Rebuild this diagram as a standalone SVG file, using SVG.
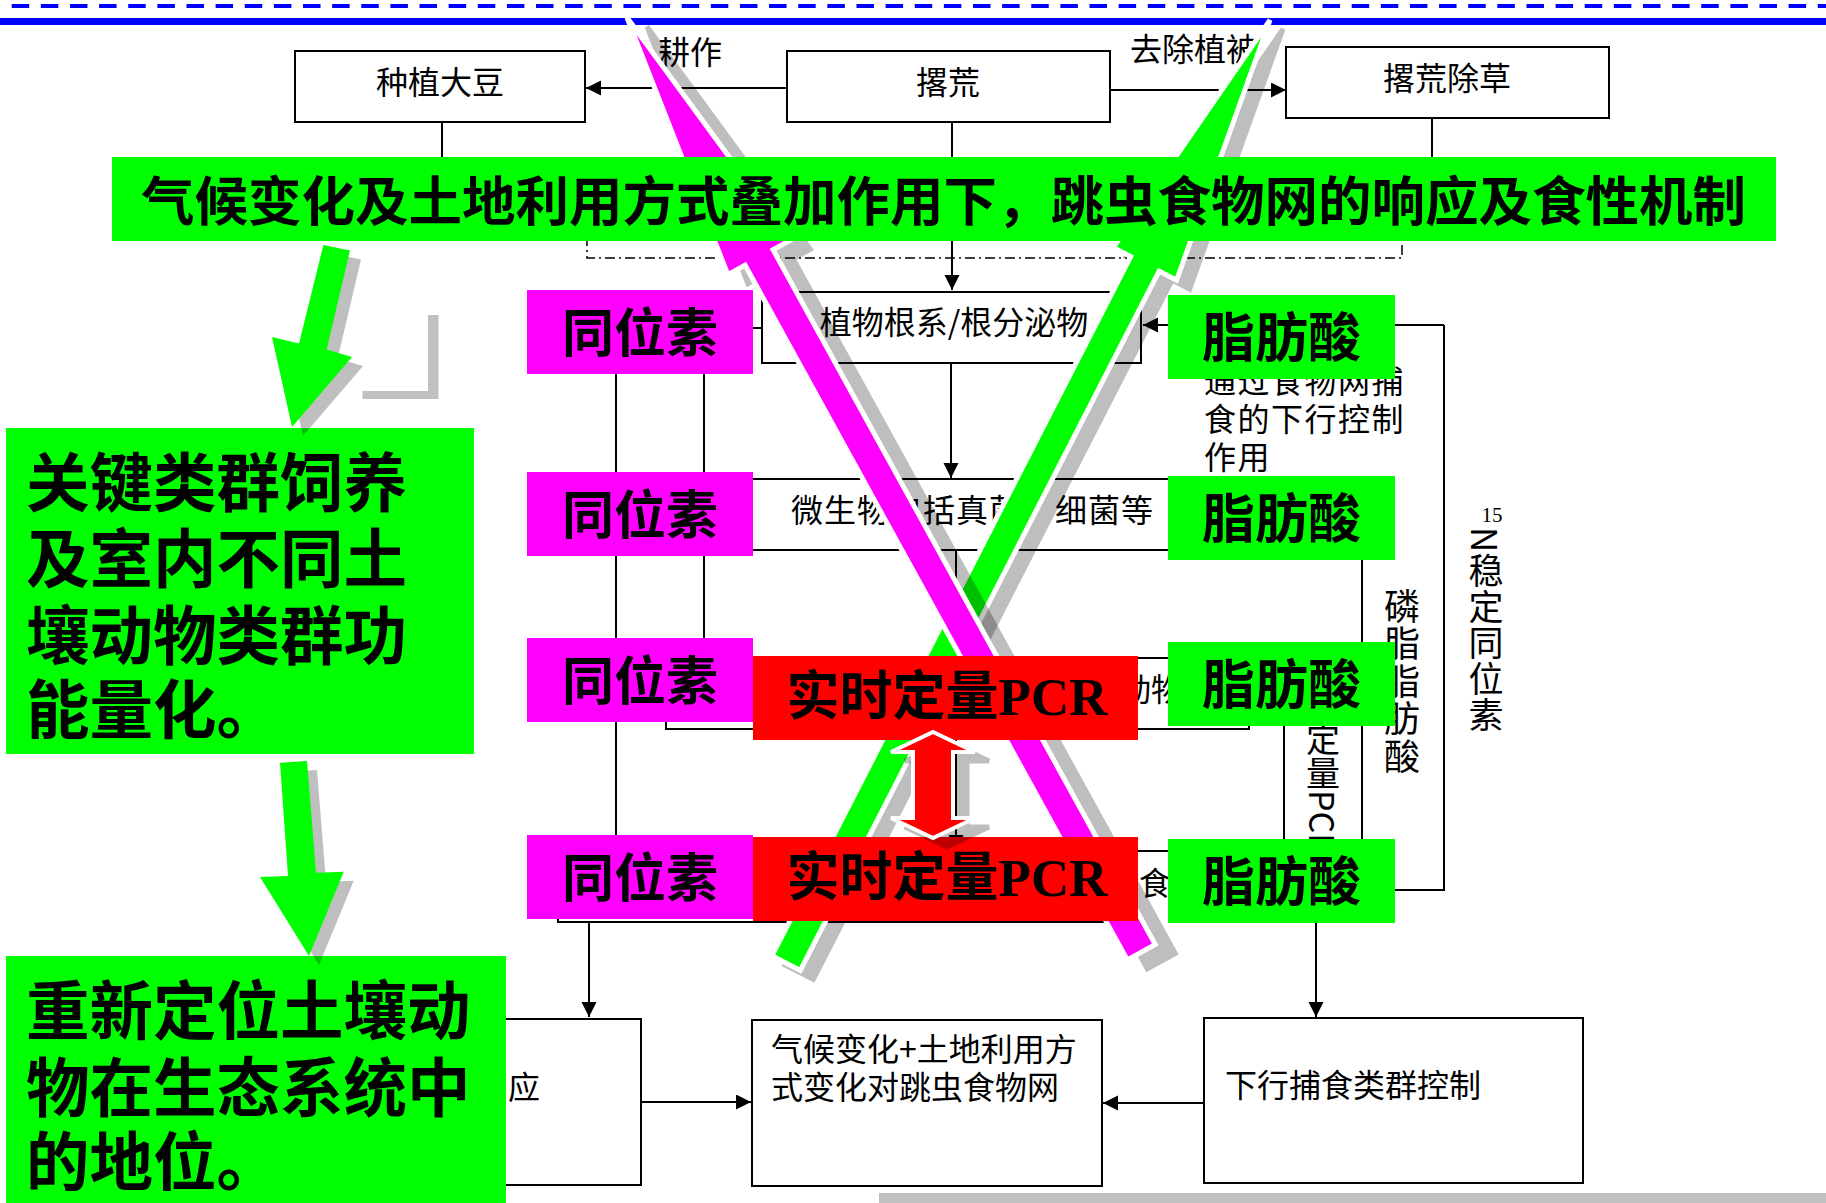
<svg xmlns="http://www.w3.org/2000/svg" width="1826" height="1203" viewBox="0 0 1826 1203">
<defs>
<marker id="ah" markerUnits="userSpaceOnUse" markerWidth="16" markerHeight="16" refX="15" refY="7.5" orient="auto">
<path d="M0,0 L15,7.5 L0,15 z" fill="#000"/>
</marker>
</defs>
<style>
.box{fill:#fff;stroke:#000;stroke-width:2}
.ln{stroke:#000;stroke-width:2;fill:none}
.arr{stroke:#000;stroke-width:2;fill:none;marker-end:url(#ah)}
.lbl{font-family:"Noto Sans CJK SC",sans-serif;font-size:32px;fill:#000;dominant-baseline:central}
.big{font-family:"Noto Sans CJK SC",sans-serif;font-weight:bold;fill:#000;dominant-baseline:central}
.pcr{font-family:"Liberation Serif","Noto Sans CJK SC",serif;font-weight:bold;fill:#000;dominant-baseline:central}
.vt{font-family:"Noto Sans CJK SC",sans-serif;fill:#000;writing-mode:vertical-rl}
.shd{fill:#000;stroke:#000;stroke-width:5;opacity:0.25}
</style>
<rect width="1826" height="1203" fill="#fff"/>
<!-- header lines -->
<line x1="11.7" y1="6" x2="1826" y2="6" stroke="#0000ff" stroke-width="4" stroke-dasharray="17.5 11.63"/>
<rect x="0" y="18" width="1826" height="7" fill="#0000ff"/>
<rect x="879" y="1193" width="947" height="10" fill="#c0c0c0"/>

<!-- connectors -->
<g id="connectors">
<line class="arr" x1="787" y1="88" x2="586" y2="88"/>
<line class="arr" x1="1110" y1="90" x2="1286" y2="90"/>
<line class="ln" x1="442" y1="122" x2="442" y2="200"/>
<line class="arr" x1="952" y1="122" x2="952" y2="290"/>
<line class="ln" x1="1432" y1="118" x2="1432" y2="200"/>
<rect x="587" y="200" width="815" height="58" fill="none" stroke="#000" stroke-width="1.5" stroke-dasharray="10 4 2 4"/>
<polyline class="ln" points="1395,890 1444,890 1444,325"/>
<line class="arr" x1="1444" y1="325" x2="1143" y2="325"/>
<line class="arr" x1="951" y1="363" x2="951" y2="478"/>
<line class="arr" x1="956" y1="550" x2="956" y2="657"/>
<line class="arr" x1="956" y1="729" x2="956" y2="850"/>
<line class="ln" x1="616" y1="328" x2="762" y2="328"/>
<line class="arr" x1="616" y1="328" x2="616" y2="850"/>
<line class="arr" x1="704" y1="328" x2="704" y2="657"/>
<line class="arr" x1="589" y1="922" x2="589" y2="1017"/>
<line class="arr" x1="641" y1="1102" x2="751" y2="1102"/>
<line class="arr" x1="1204" y1="1103" x2="1103" y2="1103"/>
<line class="arr" x1="1316" y1="923" x2="1316" y2="1017"/>
<line class="ln" x1="1362" y1="560" x2="1362" y2="839"/>
<line class="ln" x1="1284" y1="726" x2="1284" y2="839"/>
<line class="ln" x1="1109" y1="851" x2="1168" y2="851"/>
</g>

<!-- diagram nodes -->
<g id="n-soy"><rect class="box" x="295" y="51" width="290" height="71"/><text class="lbl" x="440" y="80" text-anchor="middle">种植大豆</text></g>
<g id="n-fallow"><rect class="box" x="787" y="51" width="323" height="71"/><text class="lbl" x="948" y="80" text-anchor="middle">撂荒</text></g>
<g id="n-fallow-weed"><rect class="box" x="1286" y="47" width="323" height="71"/><text class="lbl" x="1447" y="76" text-anchor="middle">撂荒除草</text></g>
<g id="lbl-till"><text class="lbl" x="690" y="50" text-anchor="middle">耕作</text></g>
<g id="lbl-remove"><text class="lbl" x="1130" y="47" font-size="31">去除植被</text></g>
<g id="n-root"><rect class="box" x="762" y="292" width="379" height="71"/><text class="lbl" x="954" y="320" text-anchor="middle">植物根系/根分泌物</text></g>
<g id="n-micro"><rect class="box" x="690" y="479" width="560" height="71"/><text class="lbl" x="791" y="508" font-size="31" letter-spacing="1">微生物包括真菌、细菌等</text></g>
<g id="n-row3"><rect class="box" x="666" y="658" width="583" height="71"/><text class="lbl" x="1119" y="687" font-size="31">动物</text></g>
<g id="n-row4"><rect class="box" x="558" y="851" width="551" height="71"/><text class="lbl" x="1139" y="881">食</text></g>
<g id="n-resp"><rect class="box" x="200" y="1019" width="441" height="166"/><text class="lbl" x="508" y="1085" font-size="31">应</text></g>
<g id="n-climate"><rect class="box" x="752" y="1020" width="350" height="166"/>
<text class="lbl" x="771" y="1047">气候变化+土地利用方</text><text class="lbl" x="771" y="1085">式变化对跳虫食物网</text></g>
<g id="n-down"><rect class="box" x="1204" y="1018" width="379" height="165"/><text class="lbl" x="1225" y="1083">下行捕食类群控制</text></g>
<g id="t-right"><text class="lbl" x="1204" y="379" letter-spacing="1.5">通过食物网捕</text><text class="lbl" x="1204" y="417" letter-spacing="1.5">食的下行控制</text><text class="lbl" x="1204" y="455" letter-spacing="1.5">作用</text></g>
<g id="t-pcr-v"><text class="vt" x="1323" y="654" font-size="34">实时定量PCR</text></g>
<g id="t-plfa-v"><text class="vt" x="1402" y="588" font-size="36" letter-spacing="1.5">磷脂脂肪酸</text></g>
<g id="t-15n"><text x="1492" y="522" font-family="Liberation Serif,serif" font-size="21" text-anchor="middle">15</text><text class="vt" x="1486" y="527" font-size="35" letter-spacing="1">N稳定同位素</text></g>

<!-- crossing stripes -->
<g id="stripe-green">
<polygon class="shd" transform="translate(13,9)" points="1270,20 1176.6,280.1 1159.1,271.1 800.3,970.4 771.9,955.8 1130.7,256.5 1113.2,247.5"/>
<polygon points="1270,20 1176.6,280.1 1159.1,271.1 800.3,970.4 771.9,955.8 1130.7,256.5 1113.2,247.5" fill="#00ff00" stroke="#fff" stroke-width="5" stroke-linejoin="miter"/>
</g>
<g id="stripe-magenta">
<polygon class="shd" transform="translate(20,9)" points="627,17.5 790.3,240.3 773.1,249.8 1155.3,944.5 1127.3,959.9 745.1,265.2 727.9,274.7"/>
<polygon points="627,17.5 790.3,240.3 773.1,249.8 1155.3,944.5 1127.3,959.9 745.1,265.2 727.9,274.7" fill="#ff00ff" stroke="#fff" stroke-width="5"/>
</g>

<!-- title -->
<g id="title"><rect x="112" y="157" width="1664" height="84" fill="#00ff00"/>
<text class="big" x="943.5" y="197" font-size="53.5" text-anchor="middle">气候变化及土地利用方式叠加作用下，跳虫食物网的响应及食性机制</text></g>

<!-- red PCR boxes -->
<g id="pcr1"><rect x="753" y="656" width="385" height="84" fill="#ff0000"/><text class="pcr" x="947" y="697" font-size="53" text-anchor="middle">实时定量PCR</text></g>
<g id="pcr2"><rect x="753" y="837" width="385" height="84" fill="#ff0000"/><text class="pcr" x="947" y="878" font-size="53" text-anchor="middle">实时定量PCR</text></g>

<!-- isotope boxes -->
<g id="iso1"><rect x="527" y="290" width="226" height="84" fill="#ff00ff"/><text class="big" x="640" y="329" font-size="52" text-anchor="middle">同位素</text></g>
<g id="iso2"><rect x="527" y="472" width="226" height="84" fill="#ff00ff"/><text class="big" x="640" y="511" font-size="52" text-anchor="middle">同位素</text></g>
<g id="iso3"><rect x="527" y="638" width="226" height="84" fill="#ff00ff"/><text class="big" x="640" y="677" font-size="52" text-anchor="middle">同位素</text></g>
<g id="iso4"><rect x="527" y="835" width="226" height="84" fill="#ff00ff"/><text class="big" x="640" y="874" font-size="52" text-anchor="middle">同位素</text></g>

<!-- fatty acid boxes -->
<g id="fa1"><rect x="1168" y="295" width="227" height="84" fill="#00ff00"/><text class="big" x="1281.5" y="334" font-size="53" text-anchor="middle">脂肪酸</text></g>
<g id="fa2"><rect x="1168" y="476" width="227" height="84" fill="#00ff00"/><text class="big" x="1281.5" y="515" font-size="53" text-anchor="middle">脂肪酸</text></g>
<g id="fa3"><rect x="1168" y="642" width="227" height="84" fill="#00ff00"/><text class="big" x="1281.5" y="681" font-size="53" text-anchor="middle">脂肪酸</text></g>
<g id="fa4"><rect x="1168" y="839" width="227" height="84" fill="#00ff00"/><text class="big" x="1281.5" y="878" font-size="53" text-anchor="middle">脂肪酸</text></g>

<!-- red double arrow -->
<g id="dbl-arrow">
<polygon class="shd" transform="translate(14,9)" points="933,732 975,752 953,752 953,818 975,818 933,838 891,818 913,818 913,752 891,752"/>
<polygon points="933,732 975,752 953,752 953,818 975,818 933,838 891,818 913,818 913,752 891,752" fill="#ff0000" stroke="#fff" stroke-width="4"/>
</g>

<!-- left green boxes -->
<g id="goalA"><rect x="6" y="428" width="468" height="326" fill="#00ff00"/>
<text class="big" font-size="63.5" x="26" y="478">关键类群饲养</text>
<text class="big" font-size="63.5" x="26" y="554">及室内不同土</text>
<text class="big" font-size="63.5" x="26" y="631">壤动物类群功</text>
<text class="big" font-size="63.5" x="26" y="705">能量化。</text></g>
<g id="goalB"><rect x="6" y="956" width="500" height="247" fill="#00ff00"/>
<text class="big" font-size="63.5" x="26" y="1006">重新定位土壤动</text>
<text class="big" font-size="63.5" x="26" y="1083">物在生态系统中</text>
<text class="big" font-size="63.5" x="26" y="1157">的地位。</text></g>

<path d="M428,315 L438.5,315 L438.5,399 L362.5,399 L362.5,391 L428,391 z" fill="#c0c0c0"/>
<g id="garrow1">
<polygon transform="translate(11,9)" points="323.4,245 350,250.6 326.7,349.5 352,357 292,427 272,337 299,343.5" fill="#000" opacity="0.25"/>
<polygon points="323.4,245 350,250.6 326.7,349.5 352,357 292,427 272,337 299,343.5" fill="#00ff00"/>
</g>
<g id="garrow2">
<polygon transform="translate(10,9)" points="280,762.7 307,761 316,872.7 343.75,871.7 309,956 260,877 288,876" fill="#000" opacity="0.25"/>
<polygon points="280,762.7 307,761 316,872.7 343.75,871.7 309,956 260,877 288,876" fill="#00ff00"/>
</g>
</svg>
